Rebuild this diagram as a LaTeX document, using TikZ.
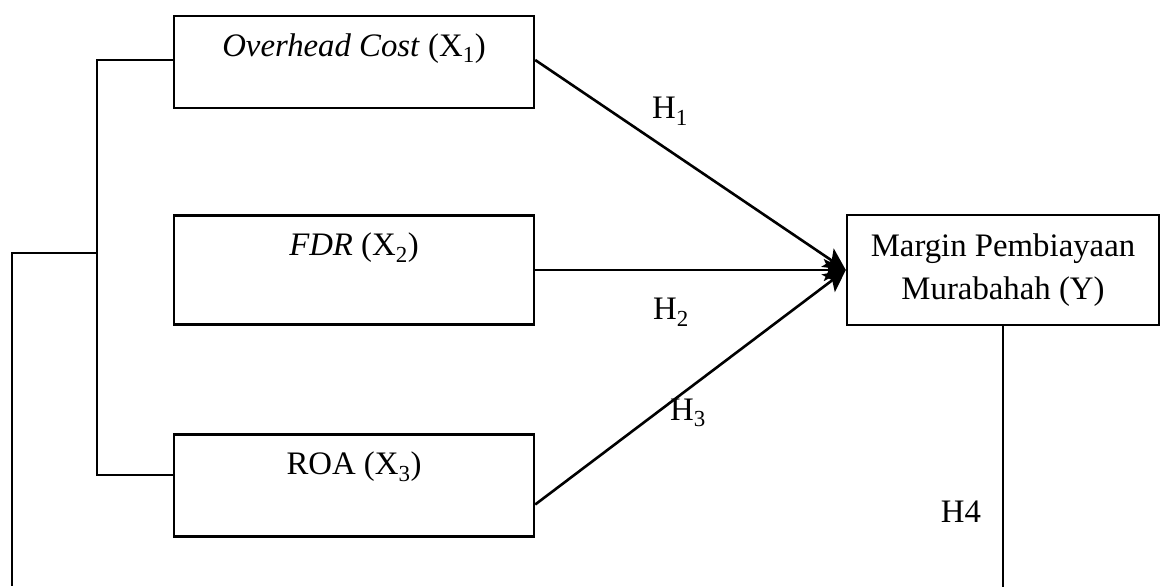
\documentclass[tikz,border=0pt]{standalone}
\usepackage{fontspec}
\setmainfont{Liberation Serif}
\usetikzlibrary{arrows.meta,calc}
\begin{document}
\begin{tikzpicture}[x=1pt,y=-1pt,
  varbox/.style={draw,line width=2.4pt,rectangle,inner sep=0pt},
  lbl/.style={inner sep=0pt,font=\fontsize{32.8}{43}\selectfont},
  conn/.style={line width=2.6pt,-{Stealth[length=22pt,width=22pt,inset=5pt,fill=black]}},
  brk/.style={line width=1.8pt}]
\useasboundingbox (0,0) rectangle (1166,586);
\node[varbox,minimum width=360pt,minimum height=92pt] (x1) at (354,62) {};
\node[varbox,minimum width=360pt,minimum height=109pt] (x2) at (354,270) {};
\node[varbox,minimum width=360pt,minimum height=102pt] (x3) at (354,485.5) {};
\node[varbox,minimum width=312pt,minimum height=110pt] (y) at (1003,270) {};
\node[lbl] (x1t) at (354,48.5) {\textit{Overhead Cost} (X\textsubscript{1})};
\node[lbl] (x2t) at (354,248) {\textit{FDR} (X\textsubscript{2})};
\node[lbl] (x3t) at (354,467) {ROA (X\textsubscript{3})};
\node[lbl,align=center] (yt) at (1003,270) {Margin Pembiayaan\\Murabahah (Y)};
\coordinate (x1o) at ($(x1.east)+(0,-2)$);
\coordinate (x3o) at ($(x3.east)+(0,19)$);
\coordinate (b1) at (97,60);
\coordinate (b3) at (97,474.6);
\coordinate (bm) at (97,252.6);
\coordinate (ol) at (12,252.6);
\coordinate (olb) at (12,586);
\coordinate (yb) at ($(y.south)+(0,261)$);
\draw[conn] (x1o) -- (y.west);
\draw[conn] (x2.east) -- (y.west);
\draw[conn] (x3o) -- (y.west);
\draw[brk] (b1 -| x1.west) -- (b1) -- (b3) -- (b3 -| x3.west);
\draw[brk] (bm) -- (ol) -- (olb);
\draw[brk] (y.south) -- (yb);
\node[lbl] (h1) at (670,111) {H\textsubscript{1}};
\node[lbl] (h2) at (671,312) {H\textsubscript{2}};
\node[lbl] (h3) at (688,413) {H\textsubscript{3}};
\node[lbl] (h4) at (961,512) {H4};
\end{tikzpicture}
\end{document}
